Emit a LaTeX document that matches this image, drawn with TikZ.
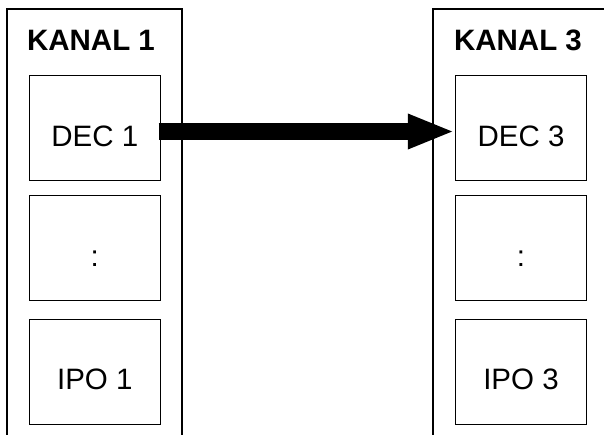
\documentclass[tikz,border=0pt]{standalone}
\usepackage{fontspec}
\setmainfont{Liberation Sans}
\usepackage{tikz}
\usetikzlibrary{arrows.meta}

\tikzset{
    frame/.style={draw, line width=2pt, minimum width=175pt, minimum height=460pt, anchor=north},
    box/.style={draw, line width=1pt, minimum width=131.5pt, minimum height=105pt, inner sep=0pt,
        text height=36pt, text depth=0pt, font=\fontsize{29.5}{35}\selectfont},
    title/.style={anchor=base, font=\fontsize{29.5}{35}\selectfont\bfseries}
}

\begin{document}
\begin{tikzpicture}[x=1pt, y=-1pt]
    \useasboundingbox (0, 0) rectangle (604, 434);
    \clip (0, 0) rectangle (604, 434);

    \node[frame] (kanal1) at (94.5, 8.3) {};
    \node[title] (title1) at (91, 50) {KANAL 1};
    \node[box] (dec1) at (94.8, 128) {DEC 1};
    \node[box] (dots1) at (94.8, 248) {:};
    \node[box] (ipo1) at (94.8, 371.5) {IPO 1};

    \node[frame] (kanal3) at (520.5, 8.3) {};
    \node[title] (title3) at (518, 50) {KANAL 3};
    \node[box] (dec3) at (521, 128) {DEC 3};
    \node[box] (dots3) at (521, 248) {:};
    \node[box] (ipo3) at (521, 371.5) {IPO 3};

    \draw[line width=17pt, -{Triangle[length=47pt, width=32pt]}] ([xshift=-2.5pt, yshift=-3.5pt]dec1.east) -- ([yshift=-3.5pt]dec3.west);
\end{tikzpicture}
\end{document}
